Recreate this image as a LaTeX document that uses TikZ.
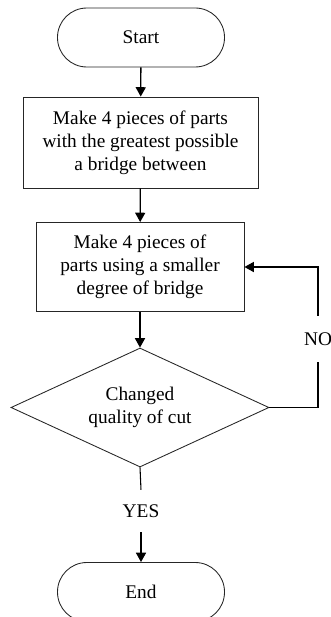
\documentclass[tikz,border=0pt]{standalone}
\usepackage{fontspec}
\setmainfont{Liberation Serif}
\usetikzlibrary{shapes.geometric,arrows.meta}
\begin{document}
\begin{tikzpicture}[x=0.75pt,y=-0.75pt,
  every node/.style={font=\fontsize{14.5}{17.25}\selectfont, align=center, inner sep=0pt},
  terminal/.style={draw=black!85, line width=0.65pt, rounded corners=22pt, minimum width=167*0.75pt, minimum height=59*0.75pt},
  procbox/.style={draw=black!85, line width=0.65pt, rectangle},
  decision/.style={draw=black!85, line width=0.65pt, diamond, aspect=2.17, minimum width=258*0.75pt, minimum height=119*0.75pt},
  flow/.style={line width=1pt, -{Triangle[length=7pt,width=7.5pt]}},
  plain/.style={line width=0.8pt}
]
\useasboundingbox (0,0) rectangle (331,617);
\node[terminal] (start) at (141,37.5) {Start};
\node[procbox, minimum width=235*0.75pt, minimum height=91*0.75pt] (b1) at (140.5,142.5) {Make 4 pieces of parts\\with the greatest possible\\a bridge between};
\node[procbox, minimum width=208*0.75pt, minimum height=89*0.75pt] (b2) at (140,267) {Make 4 pieces of\\parts using a smaller\\degree of bridge};
\node[decision] (dec) at (140,407.5) {Changed\\quality of cut};
\node[minimum height=42*0.75pt] (yes) at (141,511) {YES};
\node[terminal] (end) at (141,592) {End};
\node[minimum height=46*0.75pt] (no) at (318,339) {NO};
\draw[flow] (start) -- (b1);
\draw[flow] (b1) -- (b2);
\draw[flow] (b2) -- (dec);
\draw[plain] (dec.south) -- (yes.north);
\draw[flow] (yes.south) -- (end.north);
\draw[plain] (dec.east) -| (no.south);
\draw[flow] (no.north) |- (b2.east);
\end{tikzpicture}
\end{document}
